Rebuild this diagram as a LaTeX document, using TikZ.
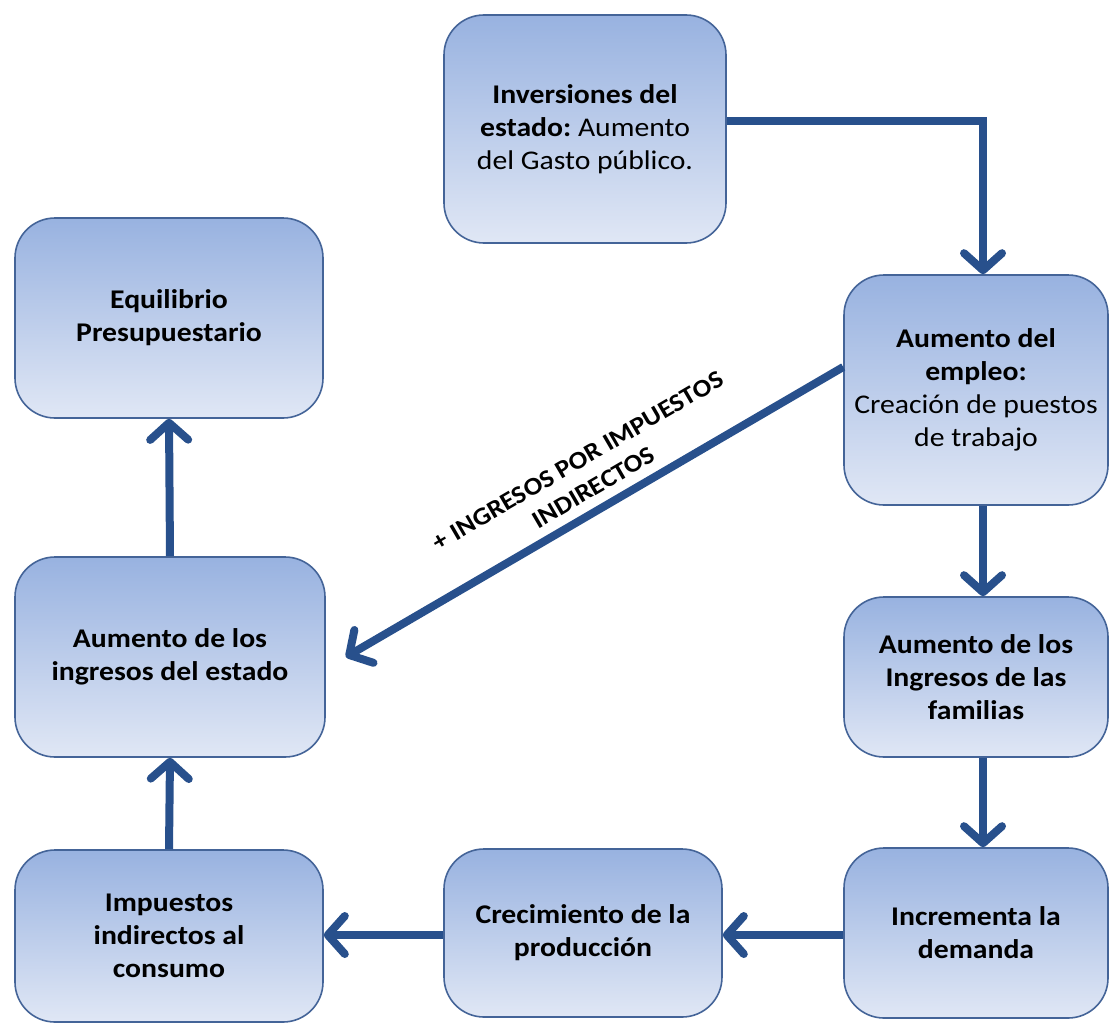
\documentclass[tikz,border=0pt]{standalone}
\usepackage{fontspec}
\setmainfont{Carlito}[FakeStretch=1.1]
\usetikzlibrary{arrows.meta,calc}
\definecolor{arrowblue}{RGB}{40,80,140}
\definecolor{boxtop}{RGB}{152,178,224}
\definecolor{boxbot}{RGB}{224,231,245}
\definecolor{boxline}{RGB}{68,100,152}
\frenchspacing
\begin{document}
\begin{tikzpicture}[x=1pt,y=-1pt,
  box/.style={draw=boxline, line width=1.6pt, rounded corners=40pt,
    top color=boxtop, bottom color=boxbot, align=center, inner sep=3pt,
    font=\fontsize{27}{33}\selectfont},
  flow/.style={draw=arrowblue, line width=8pt,
    -{Straight Barb[length=17pt,width=38pt,round]}},
  lbl/.style={font=\bfseries\fontsize{25}{31}\selectfont, align=center, text=black}]
\useasboundingbox (0,0) rectangle (1110,1025);

\node[box, minimum width=282pt, minimum height=228pt] (inv) at (585,129)
  {\textbf{Inversiones del}\\\textbf{estado:} Aumento\\del Gasto público.};
\node[box, minimum width=264pt, minimum height=230pt] (emp) at (976,390)
  {\textbf{Aumento del}\\\textbf{empleo:}\\Creación de puestos\\de trabajo};
\node[box, minimum width=264pt, minimum height=160pt] (fam) at (976,677)
  {\textbf{Aumento de los}\\\textbf{Ingresos de las}\\\textbf{familias}};
\node[box, minimum width=264pt, minimum height=170pt] (dem) at (976,933)
  {\textbf{Incrementa la}\\\textbf{demanda}};
\node[box, minimum width=278pt, minimum height=168pt] (cre) at (583,933)
  {\textbf{Crecimiento de la}\\\textbf{producción}};
\node[box, minimum width=308pt, minimum height=172pt] (imp) at (169,936)
  {\textbf{Impuestos}\\\textbf{indirectos al}\\\textbf{consumo}};
\node[box, minimum width=310pt, minimum height=200pt] (est) at (170,657)
  {\textbf{Aumento de los}\\\textbf{ingresos del estado}};
\node[box, minimum width=308pt, minimum height=200pt] (equ) at (169,318)
  {\textbf{Equilibrio}\\\textbf{Presupuestario}};

\coordinate (tip) at ([xshift=20pt]est.east);

\draw[flow] ([yshift=8pt]inv.east) -| ([xshift=7pt]emp.north);
\draw[flow] ([xshift=7pt]emp.south) -- ([xshift=7pt]fam.north);
\draw[flow] ([xshift=7pt]fam.south) -- ([xshift=7pt]dem.north);
\draw[flow] ([yshift=-2pt]dem.west) -- ([yshift=-2pt]cre.east);
\draw[flow] ([yshift=-2pt]cre.west) -- ([yshift=1pt]imp.east);
\draw[flow] (imp.north) -- (est.north |- est.south);
\draw[flow] (est.north) -- (equ.north |- equ.south);
\draw[flow] ([yshift=23pt]emp.west) -- node[lbl, pos=0.48, above=6pt, sloped]
  {+ INGRESOS POR IMPUESTOS\\INDIRECTOS} (tip);
\end{tikzpicture}
\end{document}
